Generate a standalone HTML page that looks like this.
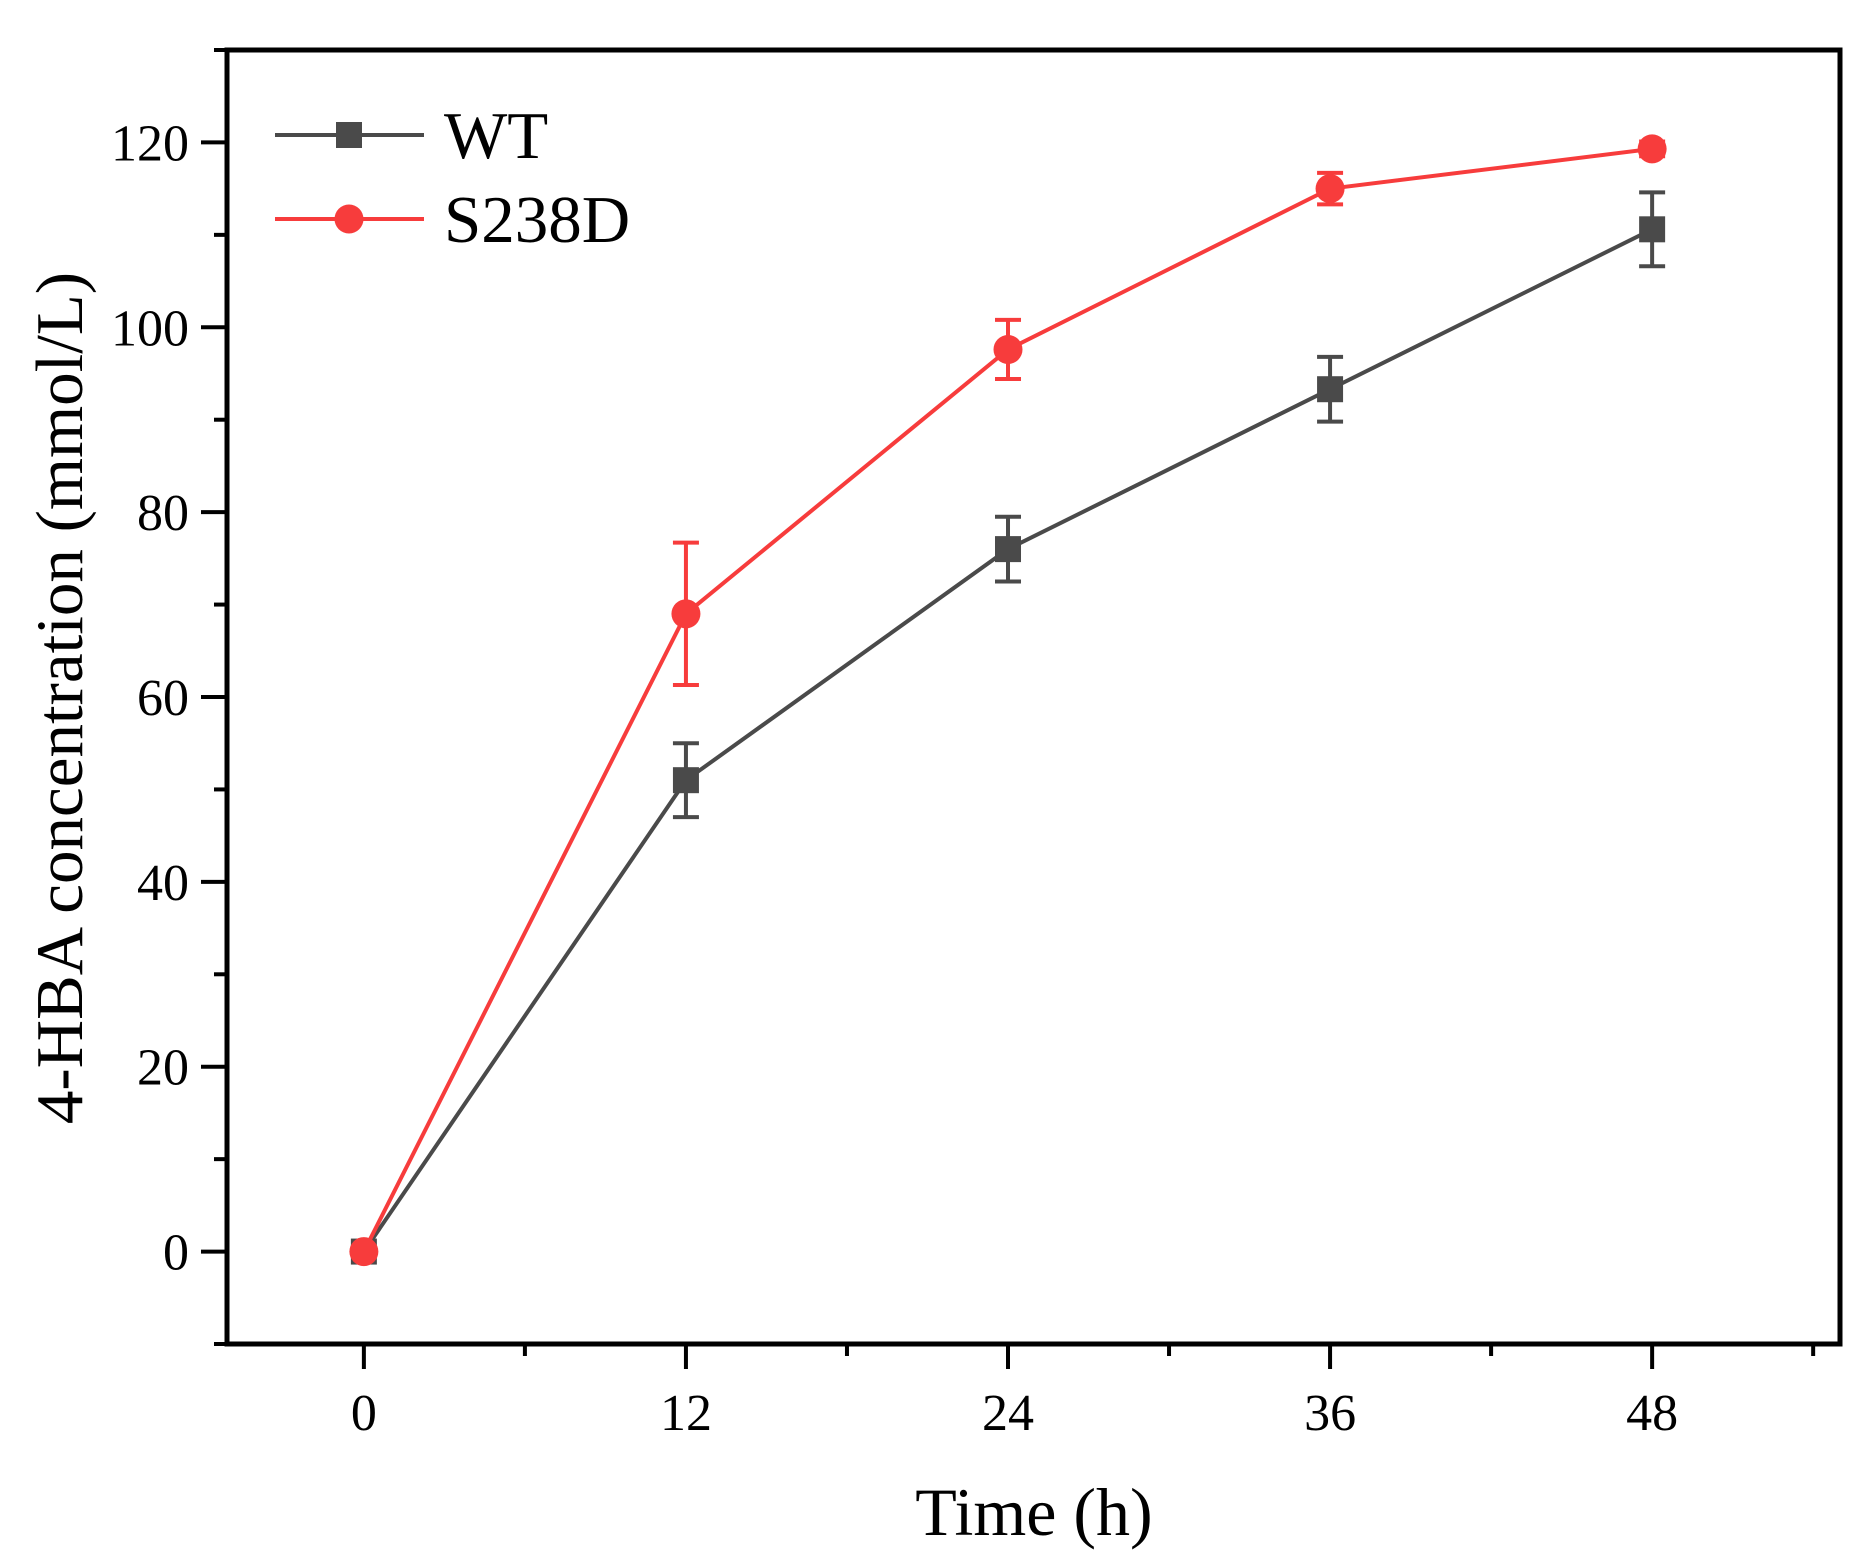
<!DOCTYPE html>
<html><head><meta charset="utf-8"><style>
html,body{margin:0;padding:0;background:#fff;}
svg{display:block;font-family:"Liberation Serif",serif;}
</style></head><body>
<svg id="chart" width="1873" height="1563" viewBox="0 0 1873 1563" xmlns="http://www.w3.org/2000/svg"></svg>
<script>
const categories = [0, 12, 24, 36, 48];
const wtValues = [0, 51, 76, 93.3, 110.6];
const wtErrors = [0, 4, 3.5, 3.5, 4];
const s238dValues = [0, 69, 97.6, 115, 119.3];
const s238dErrors = [0, 7.7, 3.2, 1.7, 0.8];
const xTickLabels = ["0", "12", "24", "36", "48"];
const yTickLabels = ["0", "20", "40", "60", "80", "100", "120"];

const NS = "http://www.w3.org/2000/svg";
const svg = document.getElementById('chart');
const L = 227, R = 1840, T = 50, B = 1344;
const xMin = -5.1, xMax = 55, yMin = -10, yMax = 130;
function xs(v){ return L + (v - xMin) / (xMax - xMin) * (R - L); }
function ys(v){ return B - (v - yMin) / (yMax - yMin) * (B - T); }
function mk(tag, attrs, parent){
  const e = document.createElementNS(NS, tag);
  for (const k in attrs) e.setAttribute(k, attrs[k]);
  (parent || svg).appendChild(e);
  return e;
}
const frame = mk('rect', {x:L, y:T, width:R-L, height:B-T, fill:'none', stroke:'#000', 'stroke-width':5});



for (let v = -10; v <= 130; v += 10) {
  const major = v % 20 === 0 && v >= 0 && v <= 120;
  const t = mk('line', {x1:L - (major ? 26 : 13), x2:L, y1:ys(v), y2:ys(v), stroke:'#000', 'stroke-width':4});
  
  
}
yTickLabels.forEach(function(lbl){
  const t = mk('text', {x:189, y:ys(+lbl) + 18, 'font-size':52, 'text-anchor':'end', fill:'#000'});
  t.textContent = lbl;
  
  
});
for (let v = -6; v <= 54; v += 6) {
  if (xs(v) < L - 20) continue;
  const major = v % 12 === 0 && v >= 0 && v <= 48;
  const t = mk('line', {x1:xs(v), x2:xs(v), y1:B, y2:B + (major ? 25 : 12), stroke:'#000', 'stroke-width':4});
  
  
}
xTickLabels.forEach(function(lbl){
  const t = mk('text', {x:xs(+lbl), y:1430, 'font-size':52, 'text-anchor':'middle', fill:'#000'});
  t.textContent = lbl;
  
  
});
const xt = mk('text', {x:1034, y:1535, 'font-size':68, 'text-anchor':'middle', fill:'#000'});
xt.textContent = 'Time (h)';


const yt = mk('text', {x:0, y:0, 'font-size':67, 'text-anchor':'middle', fill:'#000', transform:'translate(82,698) rotate(-90)'});
yt.textContent = '4-HBA concentration (mmol/L)';



function series(vals, errs, color, shape, name){
  const g = mk('g', {});
  
  
  const pts = categories.map(function(c, i){ return xs(c) + ',' + ys(vals[i]); }).join(' ');
  const pl = mk('polyline', {points:pts, fill:'none', stroke:color, 'stroke-width':4}, g);
  
  
  categories.forEach(function(c, i){
    const x = xs(c), e = errs[i];
    if (e > 0) {
      const eb = mk('path', {d:'M'+x+' '+ys(vals[i]+e)+'V'+ys(vals[i]-e)+'M'+(x-13)+' '+ys(vals[i]+e)+'H'+(x+13)+'M'+(x-13)+' '+ys(vals[i]-e)+'H'+(x+13), stroke:color, 'stroke-width':4, fill:'none'}, g);
      
      
    }
    let m;
    if (shape === 'square') m = mk('rect', {x:x-13, y:ys(vals[i])-13, width:26, height:26, fill:color}, g);
    else m = mk('circle', {cx:x, cy:ys(vals[i]), r:14.5, fill:color}, g);
    
    
  });
}
series(wtValues, wtErrors, '#4a4a4a', 'square', 'wt');
series(s238dValues, s238dErrors, '#f73c3c', 'circle', 's238d');

function legend(y, color, shape, label, name){
  const g = mk('g', {});
  
  
  mk('line', {x1:275, x2:424, y1:y, y2:y, stroke:color, 'stroke-width':4}, g);
  if (shape === 'square') mk('rect', {x:336, y:y-13, width:26, height:26, fill:color}, g);
  else mk('circle', {cx:349, cy:y, r:14.5, fill:color}, g);
  const t = mk('text', {x:444, y:y+23, 'font-size':67, fill:'#000'}, g);
  t.textContent = label;
}
legend(135, '#4a4a4a', 'square', 'WT', 'wt');
legend(219, '#f73c3c', 'circle', 'S238D', 's238d');
</script>
</body></html>
